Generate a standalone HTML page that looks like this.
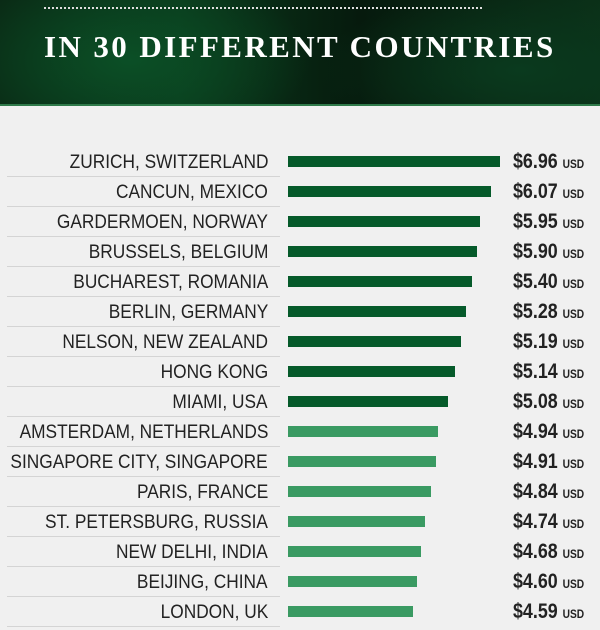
<!DOCTYPE html>
<html><head><style>
body{margin:0;width:600px;height:630px;overflow:hidden;background:#f0f0f0;font-family:"Liberation Sans",sans-serif;position:relative}
.hdr{position:absolute;left:0;top:0;width:600px;height:106px;background:radial-gradient(ellipse 180px 90px at 130px 60px,#0b4f26,transparent),radial-gradient(ellipse 200px 80px at 520px 70px,#0a3a1e,transparent),linear-gradient(90deg,#0a2a15,#0a3a1c 30%,#061a0d 60%,#0b3018);border-bottom:2px solid #2f7a4a;box-sizing:border-box}
.dots{position:absolute;left:44px;top:7px;width:438px;border-top:2px dotted #ddd}
.title{position:absolute;left:44px;top:29px;width:520px;font-family:"Liberation Serif",serif;font-weight:bold;font-size:31px;color:#fff;letter-spacing:2.4px;white-space:nowrap}
.row{position:absolute;left:0;width:600px;height:30px}
.lab{position:absolute;right:332px;top:2px;font-size:19px;color:#222;white-space:nowrap;transform:scaleX(.91);transform-origin:right center;line-height:30px}
.ln{position:absolute;left:7px;width:273px;top:30px;height:1px;background:#d4d4d4}
.bar{position:absolute;left:288px;top:10px;height:11px}
.val{position:absolute;left:513px;top:1px;line-height:30px;font-weight:bold;font-size:21px;color:#222;transform:scaleX(.85);transform-origin:left center;white-space:nowrap}
.val span{font-size:12px}
</style></head><body>
<div class="hdr"><div class="dots"></div><div class="title">IN 30 DIFFERENT COUNTRIES</div></div>
<div class="row" style="top:146px"><div class="lab">ZURICH, SWITZERLAND</div><div class="ln"></div><div class="bar" style="width:212px;background:#055a2a"></div><div class="val">$6.96 <span>USD</span></div></div>
<div class="row" style="top:176px"><div class="lab">CANCUN, MEXICO</div><div class="ln"></div><div class="bar" style="width:203px;background:#055a2a"></div><div class="val">$6.07 <span>USD</span></div></div>
<div class="row" style="top:206px"><div class="lab">GARDERMOEN, NORWAY</div><div class="ln"></div><div class="bar" style="width:192px;background:#055a2a"></div><div class="val">$5.95 <span>USD</span></div></div>
<div class="row" style="top:236px"><div class="lab">BRUSSELS, BELGIUM</div><div class="ln"></div><div class="bar" style="width:189px;background:#055a2a"></div><div class="val">$5.90 <span>USD</span></div></div>
<div class="row" style="top:266px"><div class="lab">BUCHAREST, ROMANIA</div><div class="ln"></div><div class="bar" style="width:184px;background:#055a2a"></div><div class="val">$5.40 <span>USD</span></div></div>
<div class="row" style="top:296px"><div class="lab">BERLIN, GERMANY</div><div class="ln"></div><div class="bar" style="width:178px;background:#055a2a"></div><div class="val">$5.28 <span>USD</span></div></div>
<div class="row" style="top:326px"><div class="lab">NELSON, NEW ZEALAND</div><div class="ln"></div><div class="bar" style="width:173px;background:#055a2a"></div><div class="val">$5.19 <span>USD</span></div></div>
<div class="row" style="top:356px"><div class="lab">HONG KONG</div><div class="ln"></div><div class="bar" style="width:167px;background:#055a2a"></div><div class="val">$5.14 <span>USD</span></div></div>
<div class="row" style="top:386px"><div class="lab">MIAMI, USA</div><div class="ln"></div><div class="bar" style="width:160px;background:#055a2a"></div><div class="val">$5.08 <span>USD</span></div></div>
<div class="row" style="top:416px"><div class="lab">AMSTERDAM, NETHERLANDS</div><div class="ln"></div><div class="bar" style="width:150px;background:#3a9a62"></div><div class="val">$4.94 <span>USD</span></div></div>
<div class="row" style="top:446px"><div class="lab">SINGAPORE CITY, SINGAPORE</div><div class="ln"></div><div class="bar" style="width:148px;background:#3a9a62"></div><div class="val">$4.91 <span>USD</span></div></div>
<div class="row" style="top:476px"><div class="lab">PARIS, FRANCE</div><div class="ln"></div><div class="bar" style="width:143px;background:#3a9a62"></div><div class="val">$4.84 <span>USD</span></div></div>
<div class="row" style="top:506px"><div class="lab">ST. PETERSBURG, RUSSIA</div><div class="ln"></div><div class="bar" style="width:137px;background:#3a9a62"></div><div class="val">$4.74 <span>USD</span></div></div>
<div class="row" style="top:536px"><div class="lab">NEW DELHI, INDIA</div><div class="ln"></div><div class="bar" style="width:133px;background:#3a9a62"></div><div class="val">$4.68 <span>USD</span></div></div>
<div class="row" style="top:566px"><div class="lab">BEIJING, CHINA</div><div class="ln"></div><div class="bar" style="width:129px;background:#3a9a62"></div><div class="val">$4.60 <span>USD</span></div></div>
<div class="row" style="top:596px"><div class="lab">LONDON, UK</div><div class="ln"></div><div class="bar" style="width:125px;background:#3a9a62"></div><div class="val">$4.59 <span>USD</span></div></div>
</body></html>
